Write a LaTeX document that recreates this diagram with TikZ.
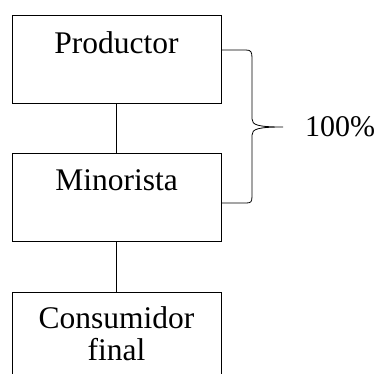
\documentclass[tikz,border=0pt]{standalone}
\usepackage{fontspec}
\setmainfont{Liberation Serif}
\begin{document}
\begin{tikzpicture}[x=1pt,y=-1pt,line width=0.8pt,
	caja/.style={draw,minimum width=209pt,minimum height=88pt,inner sep=0pt,
		font=\fontsize{31.5}{28}\selectfont,text height=21pt,text depth=33pt}]
	\useasboundingbox (0,0) rectangle (378,373);
	\clip (0,0) rectangle (378,373);
	\node[caja] (P) at (116.5,59) {Productor};
	\node[caja,text depth=35pt] (M) at (116.5,197) {Minorista};
	\node[caja,align=center,text height=,text depth=,minimum height=84pt] (C) at (116.5,334) {Consumidor\\[4pt]final};
	\node[font=\fontsize{30}{25}\selectfont] (T) at (340,127) {100\%};
	%
	% llave
	%
	\coordinate (B1) at ([yshift=9pt]P.east);
	\coordinate (B2) at ([yshift=-6pt]M.east);
	\coordinate (Pt) at (283,127);
	\path[draw]
	(P) -- (M)
	(M) -- (C);
	\draw (B1) -- (246,50) .. controls (251,50) and (252,52) .. (252,58) -- (252,119)
		.. controls (252,125) and (258,127) .. (Pt)
		.. controls (258,127) and (252,129) .. (252,135) -- (252,196)
		.. controls (252,202) and (251,203) .. (246,203) -- (B2);
\end{tikzpicture}
\end{document}
